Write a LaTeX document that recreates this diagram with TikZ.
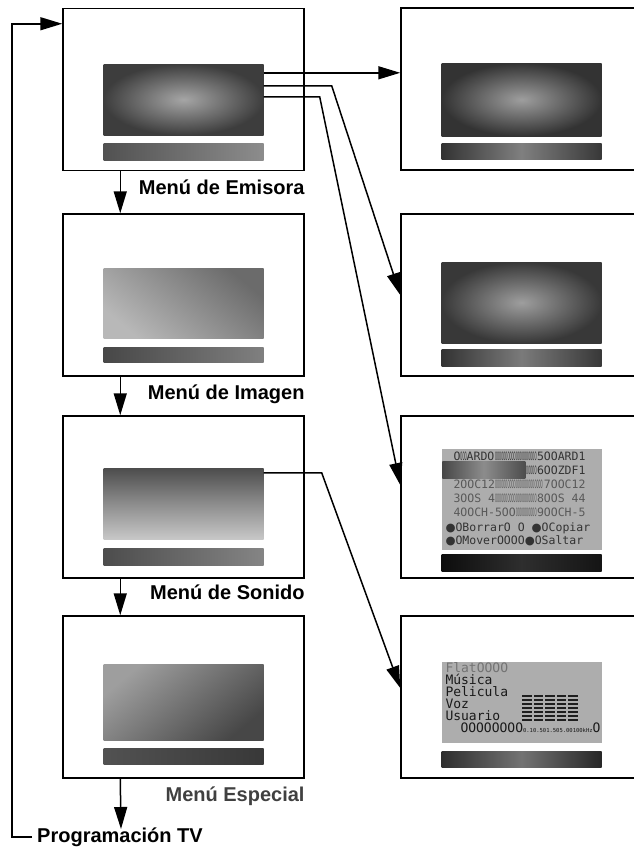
\documentclass[tikz,border=0pt]{standalone}
\usepackage{fontspec}
\usepackage{graphicx}
\usepackage{tikz}
\setmainfont{Liberation Sans}
\newfontfamily\lcdfont{DejaVu Sans Mono}
\newfontfamily\symfont{DejaVu Sans}
\usetikzlibrary{positioning,arrows.meta}
\newcommand{\squeeze}[1]{\scalebox{0.3}[1]{#1}}
\newcommand{\lcdfill}{\leaders\hbox{\squeeze{O}}\hfill}
\newcommand{\lcdrow}[2]{\hbox to 132pt{#1\lcdfill #2}}
\newcommand{\lcddot}{{\symfont ●}}

\begin{document}
\begin{tikzpicture}[x=1pt,y=-1pt,
    frame/.style={draw,line width=1.5pt,minimum width=241pt,minimum height=162pt,inner sep=0pt},
    screen/.style={minimum width=160pt,minimum height=71pt,inner sep=0pt},
    bar/.style={minimum width=160pt,minimum height=17pt,inner sep=0pt},
    lcd/.style={screen,fill=black!32},
    menu/.style={font=\bfseries\fontsize{20}{24}\selectfont,inner sep=0pt,anchor=base east},
    lcdline/.style={font=\lcdfont\fontsize{11.5}{14}\selectfont,inner sep=0pt,anchor=base west},
    link/.style={line width=1.5pt,-{Triangle[length=22pt,width=13pt]}}]
  \useasboundingbox (0,0) rectangle (634,852);
  \clip (0,0) rectangle (634,852);

  \node[frame] (emisora) at (183.5,89.5) {};
  \node[frame] (imagen) at (183.5,295) {};
  \node[frame] (sonido) at (183.5,497) {};
  \node[frame] (especial) at (183.5,697) {};
  \node[frame] (auto) at (521.5,89) {};
  \node[frame] (manual) at (521.5,295) {};
  \node[frame] (editar) at (521.5,497) {};
  \node[frame] (ecualizador) at (521.5,697) {};

  \node[screen,inner color=black!35,outer color=black!76] (emisora-scr) at ([yshift=-10pt]emisora.center) {};
  \node[bar,below=8pt of emisora-scr,left color=black!68,right color=black!45] (emisora-bar) {};
  \node[screen,minimum height=70pt,top color=black!58,bottom color=black!28,shading angle=-40] (imagen-scr) at ([yshift=-8pt]imagen.center) {};
  \node[bar,minimum height=15pt,below=9pt of imagen-scr,left color=black!72,right color=black!50] (imagen-bar) {};
  \node[screen,top color=black!70,bottom color=black!22,middle color=black!45] (sonido-scr) at ([yshift=-6.5pt]sonido.center) {};
  \node[bar,below=9pt of sonido-scr,left color=black!70,right color=black!48] (sonido-bar) {};
  \node[screen,minimum height=76pt,top color=black!38,bottom color=black!72,shading angle=40] (especial-scr) at ([yshift=-5pt]especial.center) {};
  \node[bar,minimum height=16pt,below=8pt of especial-scr,left color=black!68,right color=black!78] (especial-bar) {};

  \node[screen,minimum height=73pt,inner color=black!38,outer color=black!80] (auto-scr) at ([yshift=-10.5pt]auto.center) {};
  \node[bar,minimum height=16pt,below=7pt of auto-scr,left color=black!80,right color=black!78,middle color=black!50] (auto-bar) {};
  \node[screen,minimum height=81pt,inner color=black!38,outer color=black!78] (manual-scr) at ([yshift=-7.5pt]manual.center) {};
  \node[bar,below=6pt of manual-scr,left color=black!80,right color=black!78,middle color=black!52] (manual-bar) {};
  \node[lcd,minimum height=101pt] (editar-lcd) at ([yshift=-2.5pt]editar.center) {};
  \node[bar,below=4pt of editar-lcd,left color=black!95,right color=black!92,middle color=black!82] (editar-bar) {};
  \node[lcd,minimum height=81pt] (ecualizador-lcd) at ([yshift=-5.5pt]ecualizador.center) {};
  \node[bar,minimum height=16pt,below=8pt of ecualizador-lcd,left color=black!82,right color=black!85,middle color=black!55] (ecualizador-bar) {};

  \foreach \lft/\rgt/\tone [count=\k from 0] in {{O\squeeze{OOO}ARDO}/{5OOARD1}/80, {}/{6OOZDF1}/80, {2OOC12}/{7OOC12}/65, {3OOS 4}/{8OOS 44}/65, {4OOCH-5OO}/{9OOCH-5}/65}
    \node[lcdline,text=black!\tone] (editar-row\k) at ([shift={(12,{12+14*\k})}]editar-lcd.north west) {\lcdrow{\lft}{\rgt}};
  \node[lcdline,text=black!80] (editar-row5) at ([shift={(4,83)}]editar-lcd.north west) {\lcddot OBorrarO O \lcddot OCopiar};
  \node[lcdline,text=black!80] (editar-row6) at ([shift={(4,96)}]editar-lcd.north west) {\lcddot OMoverOOOO\lcddot OSaltar};
  \shade[left color=black!72,right color=black!70,middle color=black!45] ([shift={(1,13)}]editar-lcd.north west) rectangle ++(83,17);

  \foreach \word/\tone [count=\k from 0] in {FlatOOOO/55, Música/90, Pelicula/90, Voz/90, Usuario/90}
    \node[lcdline,font=\lcdfont\fontsize{13}{13}\selectfont,text=black!\tone] (ecualizador-row\k) at ([shift={(4,{11+12*\k})}]ecualizador-lcd.north west) {\word};
  \node[lcdline,font=\lcdfont\fontsize{13}{13}\selectfont,text=black!90] (ecualizador-row5) at ([shift={(19,71)}]ecualizador-lcd.north west) {OOOOOOOO{\fontsize{5.5}{6}\selectfont 0.10.501.505.00100kHz}O};
  \foreach \i in {0,...,4}
    \foreach \j in {0,...,6}
      \fill[black!88] ([shift={({81+11.5*\i},{33+4*\j})}]ecualizador-lcd.north west) rectangle ++(9.5,2.5);

  \node[menu] (emisora-lbl) at ([yshift=-23pt]emisora.south east) {Menú de Emisora};
  \node[menu] (imagen-lbl) at ([yshift=-23pt]imagen.south east) {Menú de Imagen};
  \node[menu] (sonido-lbl) at ([yshift=-21pt]sonido.south east) {Menú de Sonido};
  \node[menu,text=black!75] (especial-lbl) at ([yshift=-23pt]especial.south east) {Menú Especial};
  \node[menu,anchor=base west] (tv) at (37,842) {Programación TV};

  \draw[link] ([xshift=58pt]emisora.south west) -- ([xshift=58pt]imagen.north west);
  \draw[link] ([xshift=58pt]imagen.south west) -- ([xshift=58pt]sonido.north west);
  \draw[link] ([xshift=58pt]sonido.south west) -- ([xshift=58pt]especial.north west);
  \coordinate (tv-top) at (121,829);
  \draw[link] ([xshift=58pt]especial.south west) -- (tv-top);
  \draw[link] ([xshift=-5pt,yshift=5pt]tv.base west) -- ++(-20,0) |- ([yshift=-16pt]emisora.north west);

  \coordinate (out1) at ([yshift=-9pt]emisora-scr.north east);
  \coordinate (out2) at ([yshift=-22pt]emisora-scr.north east);
  \coordinate (out3) at ([yshift=-33pt]emisora-scr.north east);
  \coordinate (out4) at ([yshift=-5pt]sonido-scr.north east);
  \draw[link] (out1) -- (out1 -| auto.west);
  \draw[link] (out2) -- ++(68,0) -- (manual.west);
  \draw[link] (out3) -- ++(56,0) -- ([yshift=12pt]editar.west);
  \draw[link] (out4) -- ++(58,0) -- ([yshift=9pt]ecualizador.west);
\end{tikzpicture}
\end{document}
